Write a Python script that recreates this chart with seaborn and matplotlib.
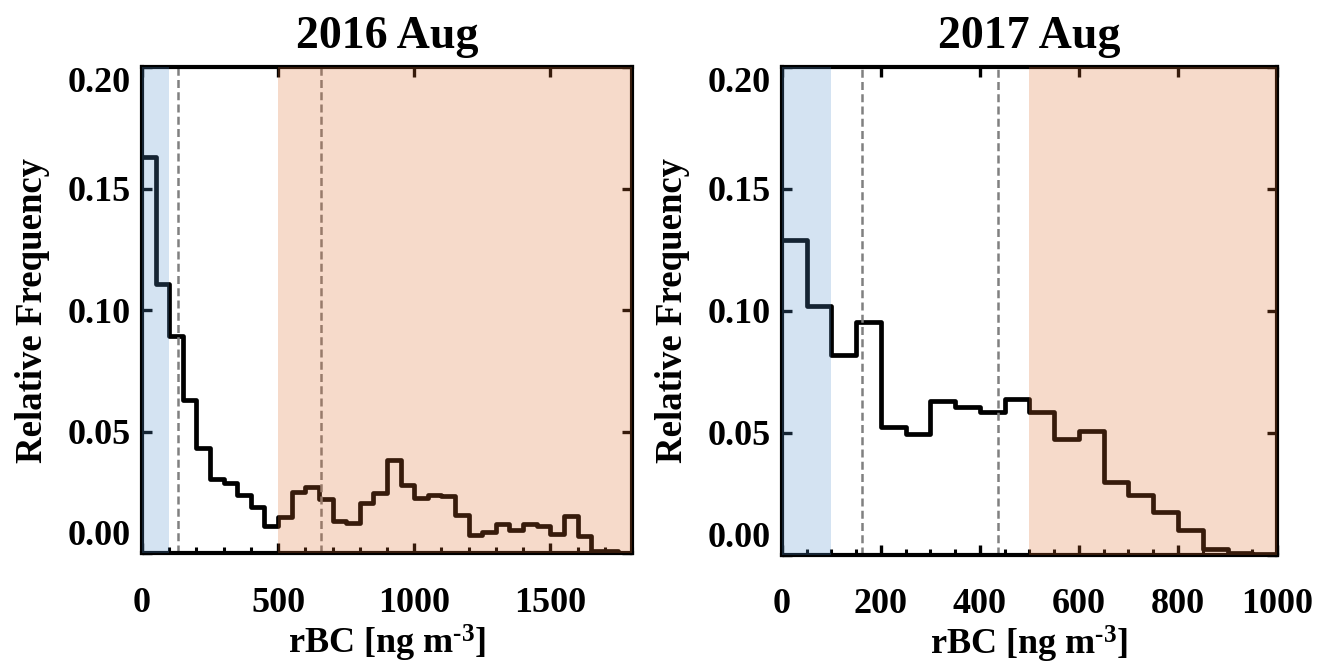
import numpy as np
import pandas as pd
import matplotlib
matplotlib.use("Agg")
import matplotlib.pyplot as plt
import seaborn as sns

# ---- data ----
bin_width = 50
freq_2016 = [0.163, 0.111, 0.0894, 0.0633, 0.0433, 0.0305, 0.0289, 0.024, 0.0193, 0.0114,
             0.0151, 0.0254, 0.0275, 0.0224, 0.0133, 0.0127, 0.0206, 0.0248, 0.0384, 0.028,
             0.023, 0.0242, 0.0238, 0.016, 0.0074, 0.0088, 0.012, 0.0098, 0.012, 0.0111,
             0.0081, 0.0152, 0.007, 0.0012, 0.001, 0.0003]
freq_2017 = [0.129, 0.102, 0.0818, 0.0956, 0.0526, 0.0495, 0.0631, 0.0604, 0.0586, 0.0638,
             0.0584, 0.0476, 0.0508, 0.030, 0.0247, 0.0175, 0.0102, 0.0025, 0.0008, 0.0003]
titles = ["2016 Aug", "2017 Aug"]
xlims = [1800, 1000]
xmajor = [[0, 500, 1000, 1500], [0, 200, 400, 600, 800, 1000]]
xminor_step = [100, 50]
yticks = [0.00, 0.05, 0.10, 0.15, 0.20]
low_band = [(0, 100), (0, 100)]
high_band = [(500, 1800), (500, 1000)]
dashed = [[131, 658], [162, 437]]

sns.set_theme(style="ticks")
plt.rcParams["font.family"] = ["Liberation Serif", "DejaVu Serif"]
plt.rcParams["font.weight"] = "bold"
plt.rcParams["text.color"] = "black"
plt.rcParams["axes.labelcolor"] = "black"
plt.rcParams["xtick.color"] = "black"
plt.rcParams["ytick.color"] = "black"
plt.rcParams["mathtext.fontset"] = "custom"
plt.rcParams["mathtext.rm"] = "Liberation Serif:bold"
plt.rcParams["mathtext.default"] = "rm"

fig = plt.figure(figsize=(13.18, 6.64), dpi=100)
positions = [[0.1077, 0.1665, 0.3718, 0.7325], [0.5933, 0.1645, 0.3756, 0.7345]]

for i, freq in enumerate([freq_2016, freq_2017]):
    ax = fig.add_axes(positions[i])
    n = len(freq)
    centers = [bin_width * (k + 0.5) for k in range(n)]
    df = pd.DataFrame({"rbc": centers, "f": freq})
    sns.histplot(data=df, x="rbc", weights="f", binwidth=bin_width,
                 binrange=(0, n * bin_width), element="step",
                 fill=False, color="black", linewidth=3.4, ax=ax, zorder=2)
    for xv in dashed[i]:
        ax.axvline(xv, color="#808080", linestyle=(0, (3.2, 1.7)), linewidth=1.8, zorder=2)
    ax.axvspan(*low_band[i], color="#5793cf", alpha=0.25, lw=0, zorder=4)
    ax.axvspan(*high_band[i], color="#df6f2f", alpha=0.25, lw=0, zorder=4)

    ax.set_xlim(0, xlims[i])
    ax.set_ylim(0, 0.2)
    ax.set_xticks(xmajor[i])
    ax.set_xticks(np.arange(0, xlims[i] + 1, xminor_step[i]), minor=True)
    ax.set_yticks(yticks)
    ax.set_yticklabels([f"{v:.2f}" for v in yticks])
    labs = ax.get_yticklabels()
    labs[0].set_va("bottom")
    labs[-1].set_va("top")
    ax.tick_params(axis="both", which="major", direction="in", length=7, width=2.4,
                   top=True, right=True, labelsize=26, color="black")
    ax.tick_params(axis="x", which="major", pad=24)
    ax.tick_params(axis="y", which="major", pad=8)
    ax.tick_params(axis="x", which="minor", direction="in", length=4.5, width=2.2,
                   top=False, bottom=True)
    ax.tick_params(axis="y", which="minor", left=False, right=False)
    for lab in ax.get_xticklabels() + ax.get_yticklabels():
        lab.set_fontweight("bold")
    for sp in ax.spines.values():
        sp.set_linewidth(3.0)
        sp.set_color("black")
        sp.set_visible(True)
    ax.set_title(titles[i], fontsize=33, fontweight="bold", pad=14)
    ax.set_xlabel(r"rBC [ng m$^{\text{-3}}$]", fontsize=26, fontweight="bold", labelpad=2)
    ax.set_ylabel("Relative Frequency", fontsize=26.5, fontweight="bold", labelpad=13)

fig.savefig("out.png", dpi=100)
